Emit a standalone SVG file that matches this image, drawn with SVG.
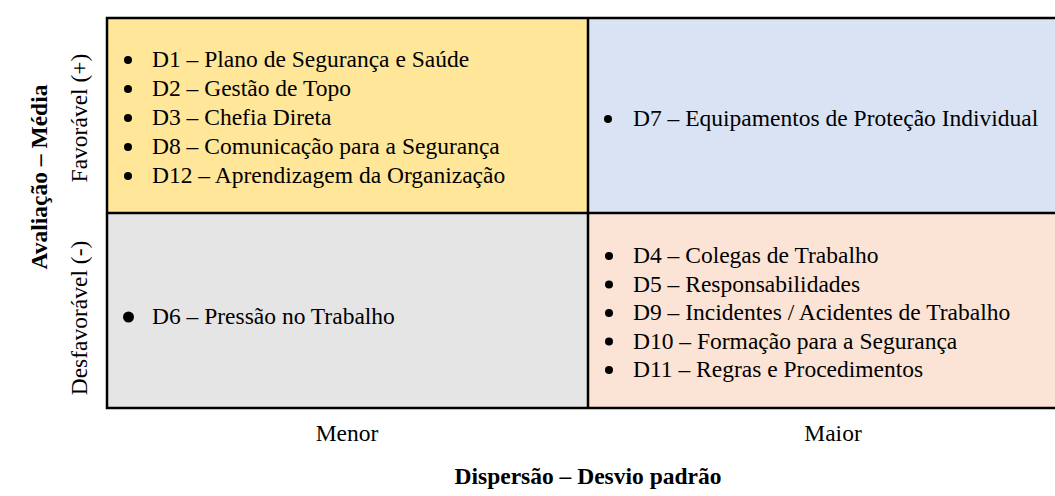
<svg xmlns="http://www.w3.org/2000/svg" width="1055" height="496" viewBox="0 0 1055 496">
<style>
text{font-family:"Liberation Serif","Times New Roman",serif;font-size:23.5px;fill:#000}
.b{font-weight:bold}
.m{text-anchor:middle}
.grid{stroke:#000;stroke-width:2.5;fill:none}
.dot{fill:#000}
</style>
<rect width="1055" height="496" fill="#fff"/>
<g id="q-tl">
<rect x="107" y="18" width="481" height="195" fill="#FFE699"/>
<circle class="dot" cx="128" cy="60" r="4"/><text x="152" y="67">D1 – Plano de Segurança e Saúde</text>
<circle class="dot" cx="128" cy="89" r="4"/><text x="152" y="96">D2 – Gestão de Topo</text>
<circle class="dot" cx="128" cy="118" r="4"/><text x="152" y="125">D3 – Chefia Direta</text>
<circle class="dot" cx="128" cy="147" r="4"/><text x="152" y="154">D8 – Comunicação para a Segurança</text>
<circle class="dot" cx="128" cy="176" r="4"/><text x="152" y="183">D12 – Aprendizagem da Organização</text>
</g>
<g id="q-tr">
<rect x="588" y="18" width="480" height="195" fill="#DAE3F3"/>
<circle class="dot" cx="608" cy="119" r="4"/><text x="633" y="126">D7 – Equipamentos de Proteção Individual</text>
</g>
<g id="q-bl">
<rect x="107" y="213" width="481" height="195" fill="#E5E5E5"/>
<circle class="dot" cx="128.5" cy="317" r="5.5"/><text x="152" y="324">D6 – Pressão no Trabalho</text>
</g>
<g id="q-br">
<rect x="588" y="213" width="480" height="195" fill="#FBE4D6"/>
<circle class="dot" cx="609" cy="256" r="4"/><text x="633" y="263">D4 – Colegas de Trabalho</text>
<circle class="dot" cx="609" cy="284.5" r="4"/><text x="633" y="291.5">D5 – Responsabilidades</text>
<circle class="dot" cx="609" cy="313" r="4"/><text x="633" y="320">D9 – Incidentes / Acidentes de Trabalho</text>
<circle class="dot" cx="609" cy="341.5" r="4"/><text x="633" y="348.5">D10 – Formação para a Segurança</text>
<circle class="dot" cx="609" cy="370" r="4"/><text x="633" y="377">D11 – Regras e Procedimentos</text>
</g>
<g id="connectors">
<path class="grid" d="M107 18H1060M107 213H1060M107 408H1060M107 16.75V409.25M588 18V408"/>
</g>
<g id="axes">
<text class="b m" transform="translate(47 177) rotate(-90)">Avaliação – Média</text>
<text class="m" transform="translate(87 118) rotate(-90)">Favorável (+)</text>
<text class="m" transform="translate(87 318) rotate(-90)">Desfavorável (-)</text>
<text class="m" x="347" y="441">Menor</text>
<text class="m" x="833" y="441">Maior</text>
<text class="b m" x="588" y="484">Dispersão – Desvio padrão</text>
</g>
</svg>
